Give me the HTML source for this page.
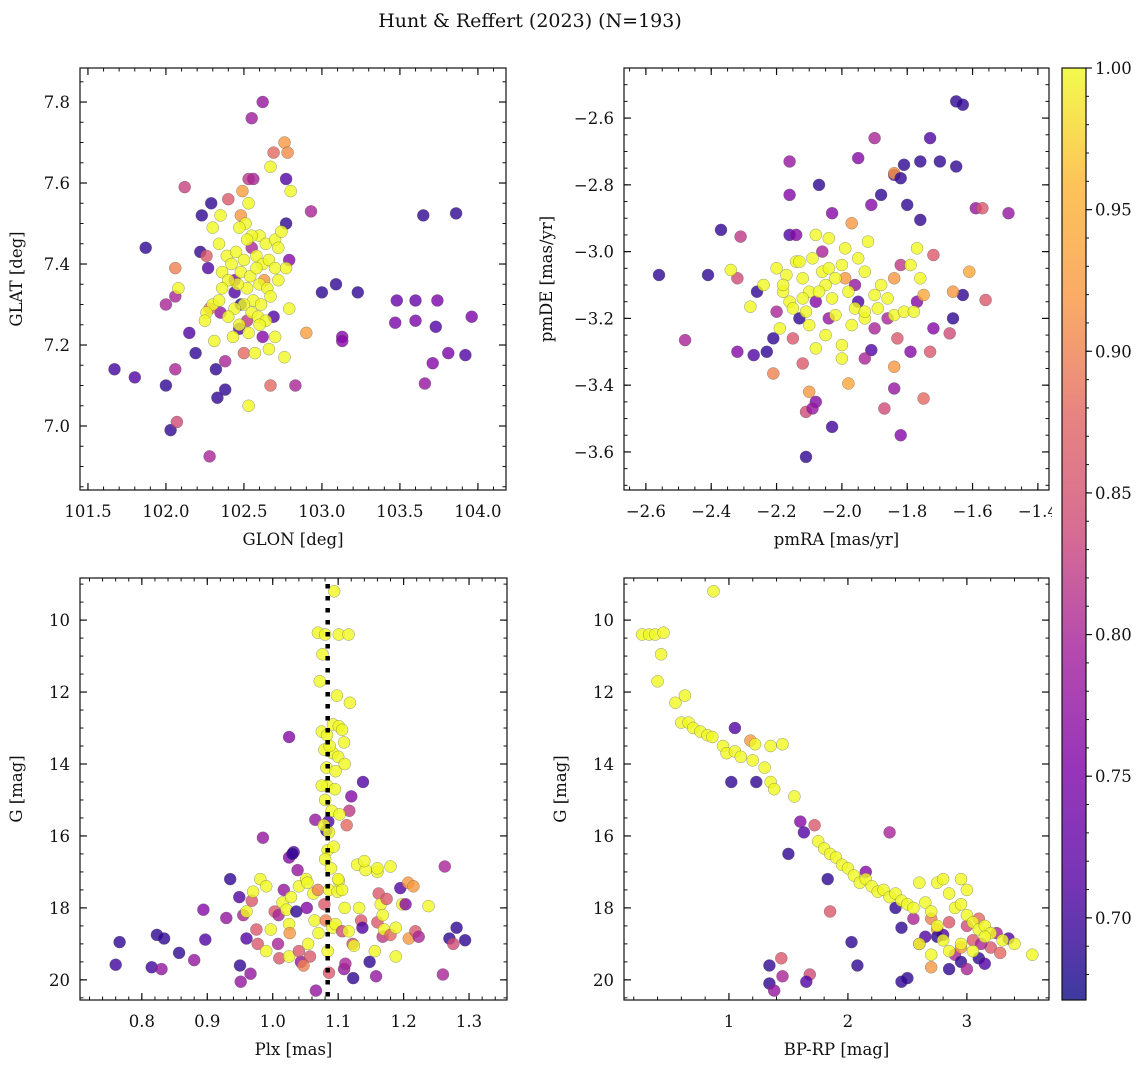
<!DOCTYPE html>
<html><head><meta charset="utf-8"><style>
body{margin:0;background:#fff;}
svg text{font-family:"DejaVu Serif","Liberation Serif",serif;fill:#111;}
</style></head><body>
<svg id="fig" width="1148" height="1067" xmlns="http://www.w3.org/2000/svg">
<rect width="1148" height="1067" fill="#fff"/>
<text x="530" y="27" font-size="19" text-anchor="middle">Hunt &amp; Reffert (2023) (N=193)</text>
</svg>
<script>
// ---- Panel 1: GLON vs GLAT ----
const p1Glon=[102.62,102.55,102.76,102.78,102.69,102.53,102.56,102.12,102.77,102.29,102.40,102.93,102.49,102.23,102.48,102.77,101.87,102.22,102.06,102.79,102.00,102.06,103.00,103.09,103.23,102.15,102.19,102.06,101.67,101.80,102.32,102.00,102.38,102.33,102.03,102.07,102.28,102.67,102.83,102.90,103.13,103.13,103.65,103.86,103.48,103.60,103.74,103.47,103.60,103.73,103.96,103.81,103.92,103.71,103.66,102.26,102.27,102.44,102.48,102.52,102.38,102.50,102.47,102.35,102.62,102.69,102.55,102.28,102.63,102.44,
102.67,102.80,102.35,102.53,102.51,102.60,102.55,102.64,102.70,102.74,102.72,102.30,102.34,102.39,102.45,102.50,102.58,102.62,102.66,102.70,102.36,102.42,102.48,102.54,102.58,102.60,102.65,102.52,102.46,102.40,102.56,102.61,102.67,102.50,102.44,102.55,102.59,102.64,102.40,102.30,102.26,102.34,102.47,102.53,102.57,102.66,102.76,102.53,102.79,102.08,102.77,102.31,102.43,102.60,102.72,102.52,102.47,102.36,102.25,102.70];
const p1Glat=[7.80,7.76,7.70,7.675,7.675,7.61,7.61,7.59,7.61,7.55,7.56,7.53,7.58,7.52,7.52,7.50,7.44,7.43,7.39,7.41,7.30,7.32,7.33,7.35,7.33,7.23,7.18,7.14,7.14,7.12,7.14,7.10,7.09,7.07,6.99,7.01,6.925,7.10,7.10,7.23,7.22,7.21,7.52,7.525,7.31,7.31,7.31,7.255,7.26,7.245,7.27,7.18,7.175,7.155,7.105,7.42,7.39,7.36,7.30,7.26,7.16,7.18,7.24,7.28,7.22,7.27,7.44,7.29,7.36,7.33,
7.64,7.58,7.52,7.55,7.50,7.47,7.47,7.45,7.46,7.48,7.44,7.49,7.45,7.42,7.43,7.41,7.42,7.40,7.41,7.39,7.38,7.40,7.38,7.37,7.39,7.35,7.34,7.34,7.35,7.36,7.31,7.30,7.32,7.30,7.29,7.28,7.27,7.26,7.27,7.30,7.28,7.31,7.25,7.23,7.18,7.19,7.17,7.05,7.29,7.34,7.39,7.21,7.22,7.25,7.36,7.46,7.49,7.34,7.26,7.22];
const p1Prob=[.78,.79,.92,.91,.88,.82,.80,.83,.71,.69,.86,.80,.93,.69,.92,.69,.69,.69,.90,.76,.80,.80,.69,.69,.69,.71,.69,.80,.70,.71,.69,.69,.69,.69,.69,.84,.80,.88,.80,.93,.76,.76,.69,.69,.73,.73,.75,.75,.75,.71,.75,.75,.71,.76,.78,.86,.71,.76,.69,.82,.80,.88,.71,.78,.76,.71,.80,.90,.92,.71,
1,1,1,1,1,1,1,1,1,1,1,1,1,1,1,1,1,1,1,1,1,1,1,1,1,1,1,1,1,1,1,1,1,1,1,1,1,1,1,1,1,1,1,1,1,1,1,1,1,1,1,1,1,1,1,1,1,1,1,1];

// ---- Panel 2: pmRA vs pmDE ----
const p2PmRA=[-2.56,-2.48,-2.41,-2.37,-2.31,-2.32,-2.26,-2.32,-2.27,-2.23,-2.21,-2.21,-2.16,-2.16,-2.16,-2.14,-2.13,-2.15,-2.12,-2.11,-2.10,-2.08,-2.09,-2.11,-2.07,-2.03,-2.03,-1.95,-1.90,-1.97,-1.91,-1.88,-1.84,-1.81,-1.84,-1.82,-1.76,-1.70,-1.73,-1.65,-1.63,-1.65,-1.59,-1.57,-1.49,-1.76,-1.72,-1.63,-1.66,-1.61,-1.56,-1.66,-1.67,-1.72,-1.73,-1.75,-1.84,-1.87,-1.84,-1.83,-1.82,-1.91,-1.98,-1.80,-1.84,-1.99,-1.82,-1.86,-1.90,-1.93,-2.04,-2.06,-2.08,-1.96,-1.77,-1.75,-1.95,-2.20,-1.79,
-2.34,-2.28,-2.24,-2.20,-2.18,-2.16,-2.17,-2.14,-2.12,-2.10,-2.11,-2.09,-2.06,-2.05,-2.03,-2.02,-2.00,-1.98,-1.96,-2.08,-2.04,-1.93,-1.92,-1.90,-1.88,-1.86,-1.84,-1.81,-1.78,-1.77,-1.79,-1.76,-2.19,-2.10,-2.05,-2.00,-2.08,-2.00,-1.93,-1.89,-1.95,-1.99,-2.12,-2.15,-2.07,-2.02,-1.97,-2.13,-1.93,-2.18,-2.04];
const p2PmDE=[-3.07,-3.265,-3.07,-2.935,-2.955,-3.08,-3.12,-3.30,-3.31,-3.30,-3.26,-3.365,-2.83,-2.73,-2.95,-2.95,-3.20,-3.26,-3.335,-3.48,-3.42,-3.45,-3.47,-3.615,-2.80,-2.885,-3.525,-2.72,-2.66,-2.915,-2.86,-2.83,-2.77,-2.74,-2.765,-2.78,-2.73,-2.73,-2.66,-2.55,-2.56,-2.745,-2.87,-2.87,-2.885,-2.905,-3.01,-3.13,-3.12,-3.06,-3.145,-3.20,-3.245,-3.23,-3.30,-3.44,-3.41,-3.47,-3.345,-3.26,-3.55,-3.295,-3.395,-2.86,-3.08,-3.08,-3.04,-3.20,-3.23,-3.32,-3.20,-3.00,-3.15,-3.10,-3.15,-3.13,-3.15,-3.18,-3.30,
-3.055,-3.165,-3.10,-3.05,-3.12,-3.15,-3.07,-3.03,-3.08,-3.12,-3.18,-3.02,-3.06,-3.10,-3.14,-3.08,-3.04,-3.12,-3.17,-2.95,-2.96,-3.06,-2.97,-3.13,-3.10,-3.14,-3.19,-3.18,-3.18,-2.99,-3.04,-3.08,-3.23,-3.22,-3.25,-3.28,-3.29,-3.32,-3.20,-3.17,-3.02,-2.99,-3.14,-3.17,-3.12,-3.19,-3.22,-3.03,-3.18,-3.10,-3.05];
const p2Prob=[.69,.80,.69,.69,.82,.84,.69,.76,.71,.69,.69,.90,.76,.78,.71,.76,.69,.86,.86,.84,.92,.76,.78,.69,.69,.76,.70,.76,.80,.92,.76,.69,.71,.69,.92,.69,.69,.69,.71,.69,.69,.69,.78,.86,.78,.69,.86,.69,.92,.94,.86,.69,.84,.76,.86,.88,.78,.84,.92,.86,.76,.71,.94,.69,.92,.92,.82,.80,.80,.80,.78,.80,.76,.78,.76,.94,.71,.80,.76,
1,1,1,1,1,1,1,1,1,1,1,1,1,1,1,1,1,1,1,1,1,1,1,1,1,1,1,1,1,1,1,1,1,1,1,1,1,1,1,1,1,1,1,1,1,1,1,1,1,1,1];

// ---- Panel 3: Plx vs G ----
const p3Plx=[1.025,1.138,1.120,1.117,1.113,1.065,1.085,0.985,1.032,1.025,1.082,
0.76,0.766,0.815,0.830,0.823,0.834,0.857,0.88,0.894,0.897,0.929,0.935,0.949,0.950,0.951,0.960,0.966,0.955,0.968,0.970,0.960,0.975,0.977,0.981,0.990,0.990,0.997,1.003,1.009,1.008,1.010,1.017,1.015,1.021,1.025,1.026,1.025,1.028,1.036,1.038,1.040,1.043,1.047,1.040,1.051,1.053,1.052,1.054,1.057,1.062,1.064,1.066,1.069,1.070,1.079,1.081,1.084,1.086,1.086,1.091,1.096,1.099,1.101,1.106,1.106,1.109,1.110,1.111,1.116,1.122,1.123,1.124,1.129,1.132,1.135,1.137,1.142,1.148,1.156,1.158,1.160,1.160,1.162,1.165,1.168,1.168,1.170,1.174,1.180,1.188,1.188,1.195,1.198,1.203,1.207,1.215,1.208,1.218,1.223,1.238,1.263,1.26,1.27,1.281,1.276,1.294,1.03,1.14,1.16,1.18,1.10,
1.094,1.069,1.080,1.101,1.116,1.076,1.072,1.098,1.118,1.075,1.083,1.092,1.101,1.106,1.079,1.092,1.100,1.083,1.075,1.095,1.080,1.090,1.102,1.078,1.086,1.084,1.093,1.080,1.089,1.109,1.087,1.082,1.096,1.110];
const p3G=[13.25,14.5,14.9,15.3,15.7,15.55,15.6,16.05,16.45,16.6,15.85,
19.58,18.95,19.65,19.7,18.75,18.85,19.25,19.45,18.05,18.88,18.28,17.2,17.7,19.6,20.05,18.85,19.83,18.2,17.8,17.55,18.1,18.6,19.0,17.2,17.4,19.2,18.6,18.1,18.2,19.0,19.4,17.5,17.85,18.05,18.45,18.7,19.35,17.7,18.1,16.95,17.4,19.5,19.6,19.2,17.2,17.3,18.0,19.0,19.35,17.6,18.35,20.3,17.5,18.7,17.9,18.35,19.2,17.5,19.8,18.55,18.45,17.55,17.25,18.65,17.5,19.7,18.0,19.55,18.65,19.0,19.95,19.05,16.8,18.0,18.35,18.55,16.95,19.5,19.2,19.9,17.0,18.4,17.6,17.9,18.8,18.2,18.6,17.75,18.75,18.55,19.35,17.45,17.9,17.9,17.3,17.4,18.85,18.65,18.8,17.95,16.85,19.85,18.85,18.55,19.0,18.9,16.5,16.7,16.9,16.85,17.2,
9.2,10.35,10.4,10.4,10.4,10.95,11.7,12.1,12.3,13.1,13.2,12.9,12.95,13.05,13.6,13.7,13.8,14.6,14.6,14.7,15.0,15.3,15.4,15.7,15.9,16.4,16.3,16.65,16.9,13.4,13.5,14.1,14.2,14.0];
const p3Prob=[.76,.71,.76,.82,.88,.78,.71,.78,.71,.76,.69,
.70,.69,.70,.78,.69,.69,.69,.78,.76,.71,.78,.69,.71,.69,.78,.71,.78,.80,.86,1,1,.86,.86,1,1,1,1,.86,.80,.80,.86,.78,1,1,1,.92,1,1,.69,.78,1,.78,.90,.86,1,1,.76,1,.86,1,1,.78,.90,1,.86,.90,1,1,.86,1,1,1,1,.84,1,.78,1,.80,1,.84,.69,1,1,1,.86,.71,1,.69,1,.78,1,.86,.86,1,.82,1,1,.86,.88,1,1,.71,1,.76,.92,.92,.92,.86,.80,1,.80,.80,.69,.69,.84,.69,.69,1,1,1,1,
1,1,1,1,1,1,1,1,1,1,1,1,1,1,1,1,1,1,1,1,1,1,1,1,1,1,1,1,1,1,1,1,1,1];

// ---- Panel 4: BP-RP vs G ----
const p4Color=[0.87,0.27,0.33,0.38,0.45,0.43,0.40,0.55,0.63,0.60,0.66,0.70,0.76,0.82,0.86,0.95,0.98,1.05,1.02,1.23,1.18,1.22,1.35,1.45,1.05,1.10,1.20,1.30,1.35,1.38,1.55,1.60,1.63,1.72,1.75,1.80,1.50,1.85,1.90,1.95,2.00,1.83,1.85,2.03,2.08,1.34,1.34,1.45,1.38,1.44,1.68,1.65,
2.35,2.15,2.40,2.45,2.50,2.45,2.60,2.65,2.70,2.75,2.80,2.85,2.90,2.95,3.00,3.05,3.10,3.15,3.20,3.25,3.28,3.00,2.85,2.75,2.70,3.10,2.95,3.35,2.55,3.12,
2.05,2.10,2.15,2.20,2.25,2.30,2.35,2.40,2.45,2.50,2.55,2.60,2.65,2.70,2.75,2.80,2.85,2.90,2.95,3.00,3.05,3.10,3.15,3.20,3.30,3.40,3.55,2.95,3.00,2.75,2.80,2.85,2.95,3.05,3.15,2.60,2.70];
const p4G=[9.2,10.4,10.4,10.4,10.35,10.95,11.7,12.3,12.1,12.85,12.85,13.0,13.1,13.2,13.25,13.5,13.7,13.0,14.5,14.5,13.35,13.45,13.5,13.45,13.65,13.8,13.9,14.1,14.5,14.7,14.9,15.6,15.9,15.7,16.15,16.35,16.5,16.5,16.6,16.8,16.9,17.2,18.1,18.95,19.6,19.6,20.1,19.9,20.3,19.4,19.85,20.05,
15.9,17.0,18.0,18.55,19.95,20.05,19.0,18.8,18.3,18.6,18.75,18.4,19.3,19.5,18.5,18.9,19.4,19.55,19.1,18.7,19.25,19.7,19.7,18.8,19.65,18.3,19.1,18.85,18.3,19.0,
17.1,17.3,17.2,17.4,17.55,17.5,17.7,17.6,17.8,17.9,18.0,17.3,17.85,18.1,17.3,17.2,17.6,18.0,17.9,18.2,18.4,18.6,18.5,18.7,18.9,19.0,19.3,17.2,17.5,18.5,18.9,19.2,19.0,19.2,18.8,19.0,19.3];
const p4Prob=[1,1,1,1,1,1,1,1,1,1,1,1,1,1,1,1,1,.71,.69,.69,.92,1,1,1,1,1,1,1,1,1,1,.76,.71,.86,1,1,.69,1,1,1,1,.69,.86,.69,.69,.69,.69,.80,.78,.86,.84,.71,
.80,.76,.69,.69,.69,.69,.84,.71,.90,.92,.71,.86,.80,.69,.84,.86,.69,.71,.86,.80,.88,.80,.69,.69,.92,.88,.92,.71,.80,.80,
1,1,1,1,1,1,1,1,1,1,1,1,1,1,1,1,1,1,1,1,1,1,1,1,1,1,1,1,1,1,1,1,1,1,1,1,1];

const VMIN=0.671, VMAX=1.0;
const NS="http://www.w3.org/2000/svg";
const svg=document.getElementById('fig');
const stops=[[13,8,135],[84,2,163],[126,3,168],[162,29,154],[204,71,120],[225,100,98],[248,149,64],[253,180,47],[240,249,33]];
const stopPos=[0,0.125,0.25,0.375,0.5,0.625,0.75,0.875,1];
function plasma(t){t=Math.max(0,Math.min(1,t));let i=0;while(i<stopPos.length-2&&t>stopPos[i+1])i++;
 const f=(t-stopPos[i])/(stopPos[i+1]-stopPos[i]);const a=stops[i],b=stops[i+1];
 return 'rgb('+a.map((v,k)=>Math.round(v+(b[k]-v)*f)).join(',')+')';}
function mk(tag,attrs,parent){const e=document.createElementNS(NS,tag);for(const k in attrs)e.setAttribute(k,attrs[k]);(parent||svg).appendChild(e);return e;}
function fmt(v,d){return (v<0?'\u2212':'')+Math.abs(v).toFixed(d);}

function panel(cfg){
 const {name,x0,x1,y0,y1,xmin,xmax,ymin,ymax,invY}=cfg;
 const sx=v=>x0+(v-xmin)/(xmax-xmin)*(x1-x0);
 const sy=v=>invY? y0+(v-ymin)/(ymax-ymin)*(y1-y0) : y1-(v-ymin)/(ymax-ymin)*(y1-y0);
 const g=mk('g',{});
 
 
 const cid='clip-'+name;
 const cp=mk('clipPath',{id:cid},g);mk('rect',{x:x0,y:y0,width:x1-x0,height:y1-y0},cp);
 const pts=mk('g',{'clip-path':'url(#'+cid+')'},g);
 for(let i=0;i<cfg.xs.length;i++){
  const c=mk('circle',{cx:sx(cfg.xs[i]).toFixed(1),cy:sy(cfg.ys[i]).toFixed(1),r:6,fill:plasma((cfg.ps[i]-VMIN)/(VMAX-VMIN)),'fill-opacity':0.8,stroke:'#555','stroke-width':0.5,'stroke-opacity':0.6},pts);
  
  
 }
 if(cfg.vline!==undefined){
  const l=mk('line',{x1:sx(cfg.vline),x2:sx(cfg.vline),y1:y0+6,y2:y1,stroke:'#000','stroke-width':4.5,'stroke-dasharray':'4.5 7.5'},g);
  
  
 }
 mk('rect',{x:x0,y:y0,width:x1-x0,height:y1-y0,fill:'none',stroke:'#111','stroke-width':1.2},g);
 const tk=(start,step,lo,hi)=>{const a=[];for(let v=Math.ceil((lo-1e-9)/step)*step;v<=hi+1e-9;v+=step)a.push(+v.toFixed(6));return a;};
 tk(0,cfg.xminor,xmin,xmax).forEach(v=>{const X=sx(v);mk('line',{x1:X,x2:X,y1:y1,y2:y1-3.5,stroke:'#111'},g);mk('line',{x1:X,x2:X,y1:y0,y2:y0+3.5,stroke:'#111'},g);});
 tk(0,cfg.yminor,ymin,ymax).forEach(v=>{const Y=sy(v);mk('line',{x1:x0,x2:x0+3.5,y1:Y,y2:Y,stroke:'#111'},g);mk('line',{x1:x1,x2:x1-3.5,y1:Y,y2:Y,stroke:'#111'},g);});
 cfg.xticks.forEach(v=>{const X=sx(v);mk('line',{x1:X,x2:X,y1:y1,y2:y1-7,stroke:'#111','stroke-width':1.2},g);mk('line',{x1:X,x2:X,y1:y0,y2:y0+7,stroke:'#111','stroke-width':1.2},g);
  const t=mk('text',{x:X,y:y1+27,'font-size':16.5,'text-anchor':'middle'},g);t.textContent=fmt(v,cfg.xd);
  });
 cfg.yticks.forEach(v=>{const Y=sy(v);mk('line',{x1:x0,x2:x0+7,y1:Y,y2:Y,stroke:'#111','stroke-width':1.2},g);mk('line',{x1:x1,x2:x1-7,y1:Y,y2:Y,stroke:'#111','stroke-width':1.2},g);
  const t=mk('text',{x:x0-10,y:Y+6,'font-size':16.5,'text-anchor':'end'},g);t.textContent=fmt(v,cfg.yd);
  });
 const xt=mk('text',{x:(x0+x1)/2,y:y1+55,'font-size':16.5,'text-anchor':'middle'},g);xt.textContent=cfg.xlabel;
 
 const yx=cfg.ylx, yy=(y0+y1)/2;
 const yt=mk('text',{x:yx,y:yy,'font-size':16.5,'text-anchor':'middle',transform:'rotate(-90 '+yx+' '+yy+')'},g);yt.textContent=cfg.ylabel;
 
}

panel({name:'glon-glat-panel',x0:80,x1:506,y0:68,y1:490,xmin:101.449,xmax:104.18,ymin:6.842,ymax:7.884,
 xs:p1Glon,ys:p1Glat,ps:p1Prob,xticks:[101.5,102.0,102.5,103.0,103.5,104.0],xd:1,yticks:[7.0,7.2,7.4,7.6,7.8],yd:1,
 xminor:0.1,yminor:0.05,xlabel:'GLON [deg]',ylabel:'GLAT [deg]',ylx:22});
panel({name:'proper-motion-panel',x0:624,x1:1049,y0:68,y1:490,xmin:-2.667,xmax:-1.366,ymin:-3.714,ymax:-2.45,
 xs:p2PmRA,ys:p2PmDE,ps:p2Prob,xticks:[-2.6,-2.4,-2.2,-2.0,-1.8,-1.6,-1.4],xd:1,yticks:[-3.6,-3.4,-3.2,-3.0,-2.8,-2.6],yd:1,
 xminor:0.05,yminor:0.05,xlabel:'pmRA [mas/yr]',ylabel:'pmDE [mas/yr]',ylx:552});
panel({name:'parallax-mag-panel',x0:80,x1:507,y0:578,y1:1000,xmin:0.7055,xmax:1.358,ymin:8.83,ymax:20.56,invY:true,
 xs:p3Plx,ys:p3G,ps:p3Prob,xticks:[0.8,0.9,1.0,1.1,1.2,1.3],xd:1,yticks:[10,12,14,16,18,20],yd:0,
 xminor:0.02,yminor:0.5,xlabel:'Plx [mas]',ylabel:'G [mag]',ylx:22,vline:1.084});
panel({name:'cmd-panel',x0:624,x1:1049,y0:578,y1:1000,xmin:0.118,xmax:3.69,ymin:8.83,ymax:20.56,invY:true,
 xs:p4Color,ys:p4G,ps:p4Prob,xticks:[1,2,3],xd:0,yticks:[10,12,14,16,18,20],yd:0,
 xminor:0.2,yminor:0.5,xlabel:'BP-RP [mag]',ylabel:'G [mag]',ylx:566});

// colorbar
(function(){
 const cx0=1062,cx1=1086,cy0=68,cy1=1000;
 const g=mk('g',{});
 
 
 mk('rect',{x:1052,y:cy0-4,width:50,height:cy1-cy0+8,fill:'#fff'},g);
 const defs=mk('defs',{},g);
 const lg=mk('linearGradient',{id:'cbgrad',x1:0,y1:1,x2:0,y2:0},defs);
 for(let i=0;i<=16;i++){mk('stop',{offset:(i/16),'stop-color':plasma(i/16),'stop-opacity':0.8},lg);}
 mk('rect',{x:cx0,y:cy0,width:cx1-cx0,height:cy1-cy0,fill:'url(#cbgrad)',stroke:'#111','stroke-width':1.2},g);
 const sy=v=>cy1-(v-VMIN)/(VMAX-VMIN)*(cy1-cy0);
 for(let v=0.68;v<=1.0001;v+=0.01){const Y=sy(v);mk('line',{x1:cx1,x2:cx1+3,y1:Y,y2:Y,stroke:'#111'},g);}
 [0.70,0.75,0.80,0.85,0.90,0.95,1.00].forEach(v=>{const Y=sy(v);mk('line',{x1:cx1,x2:cx1+6,y1:Y,y2:Y,stroke:'#111','stroke-width':1.2},g);
  const t=mk('text',{x:cx1+9,y:Y+6,'font-size':16.5},g);t.textContent=v.toFixed(2);
  });
})();
</script>
</body></html>
